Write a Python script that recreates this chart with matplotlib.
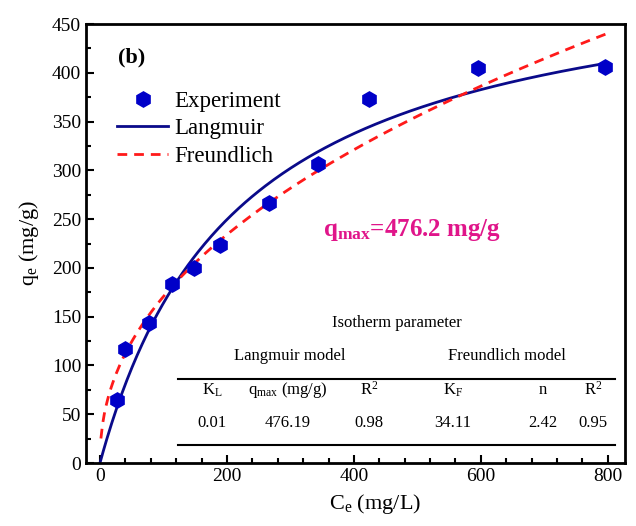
import numpy as np
import matplotlib
matplotlib.use("Agg")
import matplotlib.pyplot as plt
from matplotlib.ticker import MultipleLocator

plt.rcParams['font.family'] = ['Liberation Serif', 'DejaVu Serif']
plt.rcParams['mathtext.fontset'] = 'custom'
plt.rcParams['mathtext.rm'] = 'Liberation Serif'
plt.rcParams['mathtext.it'] = 'Liberation Serif:italic'
plt.rcParams['mathtext.bf'] = 'Liberation Serif:bold'

# Experimental data
ce = [27, 39, 78, 114, 148, 189, 266, 344, 423, 596, 796]
qe = [65, 117, 143, 183, 200, 223, 267, 307, 373, 405, 406]

# Fitted curve parameters (as drawn)
lang_q, lang_k = 522.0, 0.00458
freu_kf, freu_inv_n = 20.9, 0.456
c_lang = np.linspace(0, 796, 300)
c_freu = np.linspace(1.5, 800, 300)

# Table content
tbl_title = "Isotherm parameter"
tbl_groups = ["Langmuir model", "Freundlich model"]
tbl_headers = [r"K$_\mathrm{L}$", r"q$_\mathrm{max}$ (mg/g)", r"R$^2$", r"K$_\mathrm{F}$", "n", r"R$^2$"]
tbl_values = ["0.01", "476.19", "0.98", "34.11", "2.42", "0.95"]

fig = plt.figure(figsize=(6.36, 5.26), dpi=100)
ax = fig.add_axes([86/636, 1-463/526, 539/636, 439/526])

ax.plot(ce, qe, linestyle='none', marker='h', markersize=11, color='#0000C8', label='Experiment', zorder=3)
ax.plot(c_lang, lang_q*lang_k*c_lang/(1+lang_k*c_lang), color='#0A0A8A', lw=2, label='Langmuir')
ax.plot(c_freu, freu_kf*c_freu**freu_inv_n, color='#FF1A1A', lw=2, ls=(0, (3.5, 2.5)), label='Freundlich')

ax.set_xlim(-22, 827)
ax.set_ylim(0, 450)
ax.xaxis.set_major_locator(MultipleLocator(200))
ax.xaxis.set_minor_locator(MultipleLocator(40))
ax.yaxis.set_major_locator(MultipleLocator(50))
ax.yaxis.set_minor_locator(MultipleLocator(25))
ax.tick_params(which='both', direction='in', width=1.5, labelsize=14, top=False, right=False)
ax.tick_params(which='major', length=6)
ax.tick_params(which='minor', length=3.5)
for s in ax.spines.values():
    s.set_linewidth(2)

ax.set_xlabel(r"C$_\mathrm{e}$ (mg/L)", fontsize=16)
ax.xaxis.set_label_coords(0.536, -0.066)
ax.set_ylabel(r"q$_\mathrm{e}$ (mg/g)", fontsize=16, labelpad=8)

leg = ax.legend(loc='upper left', bbox_to_anchor=(0.0575, 0.847), frameon=False,
                fontsize=16.5, handlelength=2.23, handletextpad=0.26, borderpad=0,
                labelspacing=0.27, borderaxespad=0)

def fx(px):
    return (px-86)/539
def fy(py):
    return (463-py)/439

ax.text(fx(118), fy(57), "(b)", transform=ax.transAxes, fontsize=16, fontweight='bold', va='center', ha='left')
ax.text(fx(323), fy(230), r"q$_\mathbf{max}$=476.2 mg/g", transform=ax.transAxes, fontsize=18,
        fontweight='bold', color='#E0158A', va='center', ha='left')

ax.text(fx(397), fy(323), tbl_title, transform=ax.transAxes, fontsize=12, ha='center', va='center')
ax.text(fx(290), fy(356), tbl_groups[0], transform=ax.transAxes, fontsize=12, ha='center', va='center')
ax.text(fx(507), fy(356), tbl_groups[1], transform=ax.transAxes, fontsize=12, ha='center', va='center')
col_x = [212, 288, 369, 453, 543, 593]
for x, h, v in zip(col_x, tbl_headers, tbl_values):
    ax.text(fx(x), fy(390), h, transform=ax.transAxes, fontsize=12, ha='center', va='center')
    ax.text(fx(x), fy(423), v, transform=ax.transAxes, fontsize=12, ha='center', va='center')
ax.plot([fx(178), fx(615)], [fy(379), fy(379)], transform=ax.transAxes, color='black', lw=1.5)
ax.plot([fx(178), fx(615)], [fy(445), fy(445)], transform=ax.transAxes, color='black', lw=1.5)

fig.savefig("out.png", dpi=100)
